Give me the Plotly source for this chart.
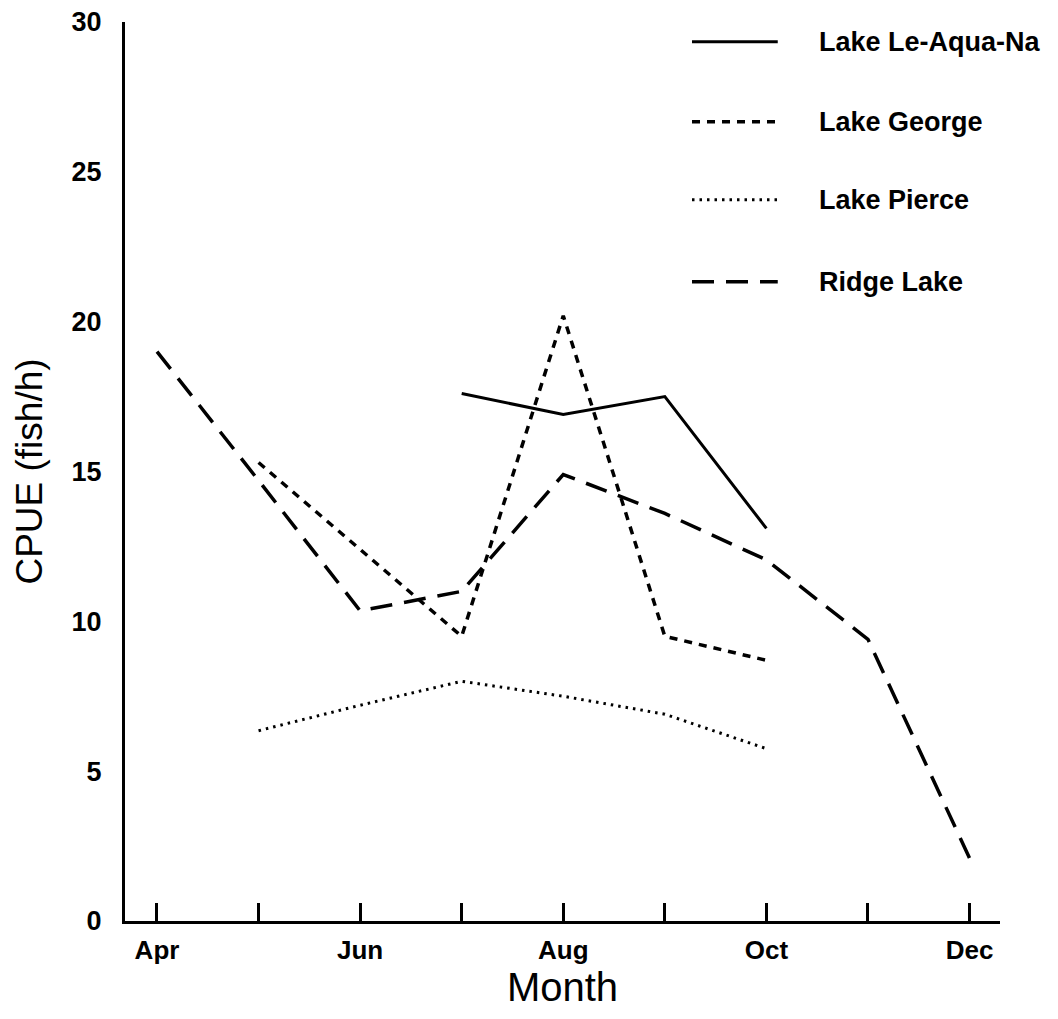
import plotly.graph_objects as go

# ---- data ----
months = ["Apr", "May", "Jun", "Jul", "Aug", "Sep", "Oct", "Nov", "Dec"]
tick_labels = ["Apr", "", "Jun", "", "Aug", "", "Oct", "", "Dec"]
y_ticks = [0, 5, 10, 15, 20, 25, 30]

le_aqua_na = [None, None, None, 17.6, 16.9, 17.5, 13.1, None, None]
george = [None, 15.3, 12.4, 9.5, 20.2, 9.5, 8.7, None, None]
pierce = [None, 6.35, 7.2, 8.0, 7.5, 6.9, 5.75, None, None]
ridge = [19.0, 14.7, 10.35, 11.0, 14.9, 13.6, 12.05, 9.4, 2.1]

series_names = ["Lake Le-Aqua-Na", "Lake George", "Lake Pierce", "Ridge Lake"]
series_values = [le_aqua_na, george, pierce, ridge]

# ---- styles ----
FONT = "Liberation Sans, Arial, Helvetica, sans-serif"
styles = [
    dict(width=3, dash="solid"),
    dict(width=3.5, dash="8px,7px"),
    dict(width=3, dash="2.5px,5px"),
    dict(width=3.5, dash="22px,12px"),
]

fig = go.Figure()
for name, vals, st in zip(series_names, series_values, styles):
    fig.add_trace(go.Scatter(
        x=months, y=vals, mode="lines", name=name,
        line=dict(color="black", width=st["width"], dash=st["dash"]),
        connectgaps=False, showlegend=False, hoverinfo="x+y+name",
    ))

# ---- legend drawn as decorations in paper space ----
legend_rows_y = [0.9780, 0.8890, 0.8022, 0.7112]
for name, st, ly in zip(series_names, styles, legend_rows_y):
    fig.add_shape(type="line", xref="paper", yref="paper",
                  x0=0.648, x1=0.746, y0=ly, y1=ly,
                  line=dict(color="black", width=st["width"], dash=st["dash"]))
    fig.add_annotation(text=name, xref="paper", yref="paper",
                       x=0.791, y=ly, xanchor="left", yanchor="middle",
                       showarrow=False,
                       font=dict(family=FONT, size=27, color="black", weight="bold"))

fig.update_layout(
    width=1058, height=1019,
    margin=dict(l=125, r=58, t=22, b=98, autoexpand=False),
    paper_bgcolor="white", plot_bgcolor="white",
    font=dict(family=FONT, color="black"),
    showlegend=False,
)

fig.update_xaxes(
    type="category", categoryorder="array", categoryarray=months,
    range=[-0.315, 8.3],
    tickvals=months, ticktext=tick_labels,
    ticks="inside", ticklen=18, tickwidth=2.5, tickcolor="black",
    showline=True, linecolor="black", linewidth=3,
    showgrid=False, zeroline=False,
    tickfont=dict(family=FONT, size=26, color="black", weight="bold"),
    ticklabelstandoff=4,
    title=dict(text="Month", font=dict(family=FONT, size=40, color="black"), standoff=6),
    automargin=False,
)
fig.update_yaxes(
    range=[0, 30], tickvals=y_ticks,
    ticks="", showline=True, linecolor="black", linewidth=3,
    showgrid=False, zeroline=False,
    tickfont=dict(family=FONT, size=27, color="black", weight="bold"),
    ticklabelstandoff=15, ticklabeloverflow="allow",
    title=dict(text="CPUE (fish/h)", font=dict(family=FONT, size=37, color="black"), standoff=18),
    automargin=False,
)

# remove the browser's default 8px body margin so the figure sits at the page origin
fig.write_html("out.html", config={"displayModeBar": False},
               post_script="document.body.style.margin='0';")
